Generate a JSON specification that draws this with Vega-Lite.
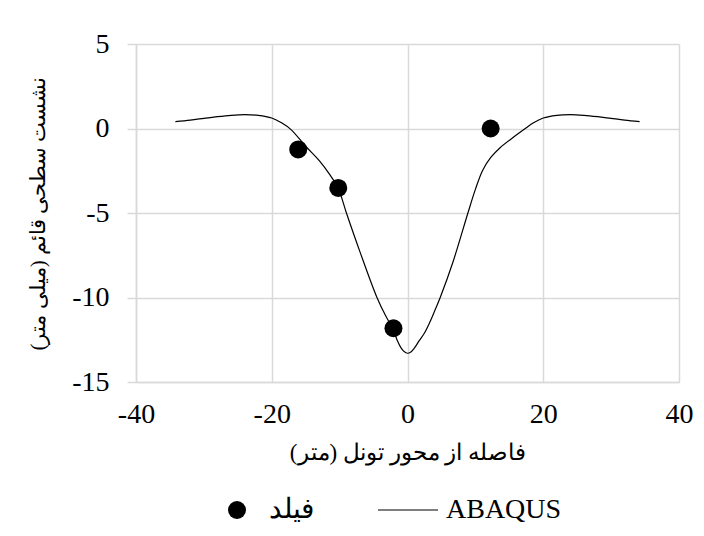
{
  "$schema": "https://vega.github.io/schema/vega-lite/v6.json",
  "autosize": "none",
  "width": 543,
  "height": 338,
  "padding": {"left": 136, "top": 44, "right": 25, "bottom": 154},
  "background": "white",
  "config": {
    "font": "Liberation Serif",
    "view": {"stroke": null},
    "axis": {
      "labelFont": "Liberation Serif",
      "titleFont": "Liberation Serif",
      "labelColor": "black",
      "titleColor": "black",
      "titleFontWeight": "normal",
      "gridColor": "#d9d9d9",
      "gridWidth": 1.5,
      "domainColor": "#d9d9d9",
      "domainWidth": 1.5,
      "tickColor": "#d9d9d9",
      "tickWidth": 1.5
    }
  },
  "datasets": {
    "abaqus": [
      {"x": -34.2, "y": 0.41}, {"x": -32, "y": 0.5}, {"x": -30, "y": 0.6},
      {"x": -28, "y": 0.7}, {"x": -26, "y": 0.78}, {"x": -24, "y": 0.82},
      {"x": -22, "y": 0.78}, {"x": -20, "y": 0.62}, {"x": -18.5, "y": 0.32},
      {"x": -17.2, "y": -0.05}, {"x": -15, "y": -1.05},
      {"x": -13, "y": -1.9}, {"x": -11.5, "y": -2.7}, {"x": -10.2, "y": -3.55},
      {"x": -9, "y": -5}, {"x": -7, "y": -7.3},
      {"x": -4.5, "y": -10}, {"x": -3.2, "y": -11.1}, {"x": -2.5, "y": -11.6},
      {"x": -2, "y": -12.0}, {"x": -1.5, "y": -12.55}, {"x": -1, "y": -12.95},
      {"x": -0.5, "y": -13.2}, {"x": 0, "y": -13.3}, {"x": 0.5, "y": -13.22},
      {"x": 1, "y": -13.0}, {"x": 1.7, "y": -12.57}, {"x": 2.5, "y": -12.1},
      {"x": 3.25, "y": -11.5}, {"x": 4, "y": -10.8}, {"x": 4.82, "y": -10},
      {"x": 6.7, "y": -7.9}, {"x": 8.9, "y": -5}, {"x": 10, "y": -3.6},
      {"x": 11.1, "y": -2.45}, {"x": 12.3, "y": -1.7}, {"x": 13.6, "y": -1.15},
      {"x": 15.5, "y": -0.55},
      {"x": 17.3, "y": -0.02}, {"x": 18.5, "y": 0.32}, {"x": 20, "y": 0.62},
      {"x": 22, "y": 0.78}, {"x": 24, "y": 0.82}, {"x": 26, "y": 0.78},
      {"x": 28, "y": 0.7}, {"x": 30, "y": 0.6}, {"x": 32, "y": 0.5},
      {"x": 34.2, "y": 0.41}
    ],
    "field": [
      {"x": -16.1, "y": -1.24},
      {"x": -10.2, "y": -3.52},
      {"x": -2.07, "y": -11.82},
      {"x": 12.25, "y": 0}
    ]
  },
  "layer": [
    {
      "data": {"name": "abaqus"},
      "transform": [{"calculate": "'ABAQUS'", "as": "series"}],
      "mark": {"type": "line", "interpolate": "catmull-rom", "color": "black", "strokeWidth": 1.2},
      "encoding": {
        "x": {
          "field": "x", "type": "quantitative",
          "scale": {"domain": [-40, 40], "nice": false},
          "axis": {
            "values": [-40, -20, 0, 20, 40],
            "labelExpr": "toString(datum.value)",
            "title": "فاصله از محور تونل (متر)",
            "labelFontSize": 28, "titleFontSize": 23,
            "ticks": false, "labelPadding": 18, "titlePadding": 13,
            "labelFlush": false
          }
        },
        "y": {
          "field": "y", "type": "quantitative",
          "scale": {"domain": [-15, 5], "nice": false},
          "axis": {
            "values": [-15, -10, -5, 0, 5],
            "labelExpr": "toString(datum.value)",
            "title": "نشست سطحی قائم (میلی متر)",
            "labelFontSize": 28, "titleFontSize": 21,
            "tickSize": 9, "labelPadding": 18, "titlePadding": 23
          }
        },
        "color": {
          "field": "series", "type": "nominal",
          "scale": {"domain": ["فیلد", "ABAQUS"], "range": ["black", "black"]},
          "legend": {
            "orient": "none", "legendX": 92, "legendY": 452,
            "direction": "horizontal", "title": null,
            "labelFont": "Liberation Serif", "labelFontSize": 28, "labelColor": "black",
            "columnPadding": 61, "symbolSize": 324, "labelOffset": 13, "padding": 0,
            "encode": {
              "symbols": {
                "update": {
                  "shape": {"signal": "datum.value === 'ABAQUS' ? 'stroke' : 'circle'"},
                  "fill": {"signal": "datum.value === 'ABAQUS' ? 'transparent' : 'black'"},
                  "stroke": {"value": "black"},
                  "strokeWidth": {"signal": "datum.value === 'ABAQUS' ? 1.2 : 0"},
                  "size": {"signal": "datum.value === 'ABAQUS' ? 3600 : 324"},
                  "x": {"signal": "datum.value === 'ABAQUS' ? 30 : 9"}
                }
              },
              "labels": {
                "update": {
                  "dx": {"signal": "datum.value === 'ABAQUS' ? 27 : 0"}
                }
              }
            }
          }
        }
      }
    },
    {
      "data": {"name": "field"},
      "transform": [{"calculate": "'فیلد'", "as": "series"}],
      "mark": {"type": "point", "shape": "circle", "filled": true, "size": 324, "opacity": 1},
      "encoding": {
        "x": {"field": "x", "type": "quantitative"},
        "y": {"field": "y", "type": "quantitative"},
        "color": {"field": "series", "type": "nominal"}
      }
    }
  ]
}
